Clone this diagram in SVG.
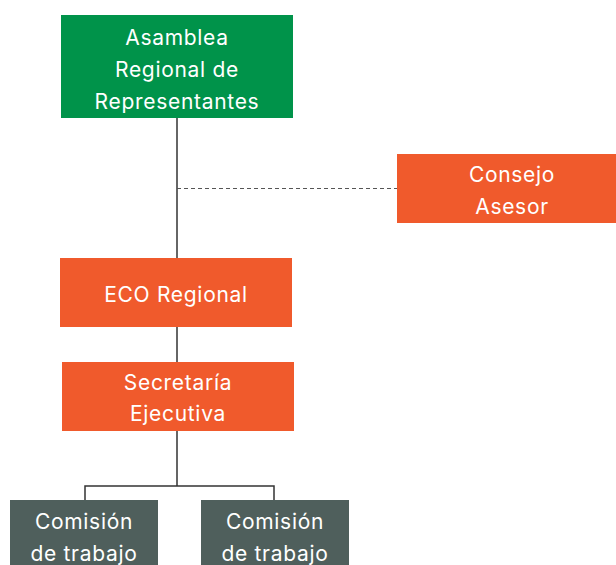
<svg xmlns="http://www.w3.org/2000/svg" width="616" height="565" viewBox="0 0 616 565">
<style>
.t{font-family:Inter,"Noto Sans",sans-serif;font-size:21px;letter-spacing:0.7px;fill:#fff;text-anchor:middle;dominant-baseline:central}
.green{fill:#00934A}
.orange{fill:#F05A2C}
.gray{fill:#4F5F5C}
.ln{stroke:#333;stroke-width:1.5;fill:none}
.dash{stroke:#555;stroke-width:1;stroke-dasharray:4 3;fill:none}
</style>
<rect width="616" height="565" fill="#fff"/>
<g id="connectors">
<path class="ln" d="M177 118V258"/>
<path class="dash" d="M177 188.5H397"/>
<path class="ln" d="M177 327V362"/>
<path class="ln" d="M177 431V486M85 500V486H274V500"/>
</g>
<g id="asamblea">
<rect class="green" x="61" y="15" width="232" height="103"/>
<text class="t" x="177" y="37">Asamblea</text>
<text class="t" x="177" y="69">Regional de</text>
<text class="t" x="177" y="101">Representantes</text>
</g>
<g id="consejo">
<rect class="orange" x="397" y="154" width="219" height="69"/>
<text class="t" x="512" y="174">Consejo</text>
<text class="t" x="512" y="206">Asesor</text>
</g>
<g id="eco">
<rect class="orange" x="60" y="258" width="232" height="69"/>
<text class="t" x="176" y="294">ECO Regional</text>
</g>
<g id="secretaria">
<rect class="orange" x="62" y="362" width="232" height="69"/>
<text class="t" x="178" y="382">Secretaría</text>
<text class="t" x="178" y="413">Ejecutiva</text>
</g>
<g id="comision1">
<rect class="gray" x="10" y="500" width="148" height="65"/>
<text class="t" x="84" y="521">Comisión</text>
<text class="t" x="84" y="553">de trabajo</text>
</g>
<g id="comision2">
<rect class="gray" x="201" y="500" width="148" height="65"/>
<text class="t" x="275" y="521">Comisión</text>
<text class="t" x="275" y="553">de trabajo</text>
</g>
</svg>
